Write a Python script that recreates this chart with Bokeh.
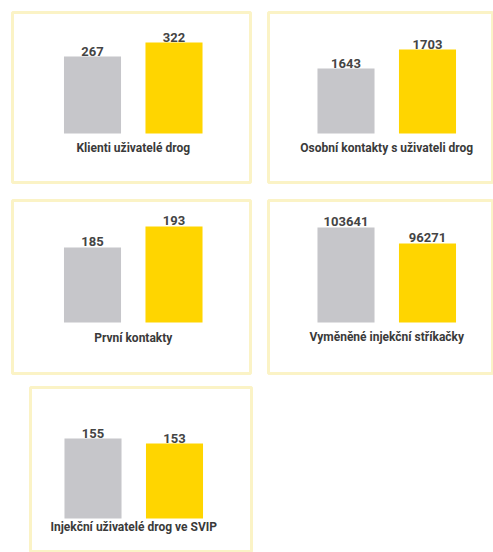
from bokeh.plotting import figure
from bokeh.layouts import column, row
from bokeh.models import Range1d, ColumnDataSource
from bokeh.core.properties import value
from bokeh.embed import file_html
from bokeh.resources import INLINE

# ---- data -------------------------------------------------------------
periods = ["Předchozí období", "Aktuální období"]
titles = [
    "Klienti uživatelé drog",
    "Osobní kontakty s uživateli drog",
    "První kontakty",
    "Vyměněné injekční stříkačky",
    "Injekční uživatelé drog ve SVIP",
]
previous = [267, 1643, 185, 103641, 155]
current = [322, 1703, 193, 96271, 153]

# value-axis settings per panel: value at the foot of the bars, value at the panel top
y_floor = [-35, 1438, 156.4, 59881, 123]
y_top = [440, 1820, 202.9, 116077, 175.4]

# ---- styling / layout ---------------------------------------------------
GRAY = "#c6c6ca"
YELLOW = "#ffd500"
BORDER = "#fbf3c6"
FONT = value("Roboto")
SPACING = 81.5      # px between the two bar centres
BAR_W = 0.70

# canvas w, h, borders (l, r, t, b), bar-foot px above frame bottom,
# first bar centre px from frame left, category label offset px
geom = [
    (259, 191, 12, 9, 12, 9, 49, 80.0, 14),
    (234, 191, 9, 0, 12, 9, 49, 77.5, 14),
    (259, 191, 12, 9, 9, 9, 51, 80.0, 15),
    (234, 191, 9, 0, 9, 9, 51, 77.5, 14),
    (259, 170, 30, 8, 5, 0, 34, 62.5, 8),
]


def panel(i):
    w, h, bl, br, bt, bb, foot, c0, loff = geom[i]
    fw, fh = w - bl - br, h - bt - bb
    xs = Range1d(-c0 / SPACING, -c0 / SPACING + fw / SPACING)
    ppu = (fh - foot) / (y_top[i] - y_floor[i])
    ys = Range1d(y_floor[i] - foot / ppu, y_top[i])
    p = figure(width=w, height=h, x_range=xs, y_range=ys,
               output_backend="svg", toolbar_location=None,
               x_axis_location=None, y_axis_location=None,
               min_border_left=bl, min_border_right=br,
               min_border_top=bt, min_border_bottom=bb)
    p.grid.visible = False
    p.background_fill_color = "white"
    p.border_fill_color = "white"
    p.outline_line_color = BORDER
    p.outline_line_width = 3

    vals = [previous[i], current[i]]
    src = ColumnDataSource(dict(
        x=list(range(len(periods))),
        top=vals,
        bottom=[y_floor[i]] * len(vals),
        color=[GRAY, YELLOW],
        label=[str(v) for v in vals],
    ))
    p.vbar(x="x", top="top", bottom="bottom", width=BAR_W, color="color",
           line_color=None, source=src)
    p.text(x="x", y="top", text="label", source=src,
           text_font=FONT, text_font_style="bold", text_font_size="13px",
           text_color="#444444", text_align="center", text_baseline="bottom",
           y_offset=-1)
    p.text(x=[(len(periods) - 1) / 2], y=[y_floor[i]], text=[titles[i]],
           text_font=FONT, text_font_style="bold", text_font_size="12px",
           text_color="#3a3a3a", text_align="center", text_baseline="middle",
           y_offset=loff)
    return p


figs = [panel(i) for i in range(5)]
layout = column(row(figs[0], figs[1]), row(figs[2], figs[3]), row(figs[4]))

open("out.html", "w").write(file_html(layout, INLINE))
